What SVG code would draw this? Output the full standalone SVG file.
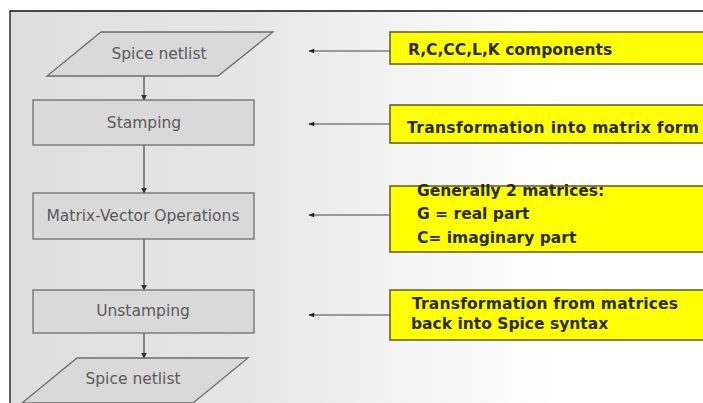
<svg xmlns="http://www.w3.org/2000/svg" width="703" height="403" viewBox="0 0 703 403">
<defs>
<linearGradient id="bg" x1="0" y1="0" x2="1" y2="0">
<stop offset="0" stop-color="#dedede"/>
<stop offset="0.35" stop-color="#e6e6e6"/>
<stop offset="0.55" stop-color="#f2f2f2"/>
<stop offset="0.8" stop-color="#ffffff"/>
<stop offset="1" stop-color="#ffffff"/>
</linearGradient>
<marker id="ah" viewBox="0 0 8 8" refX="7" refY="4" markerWidth="6" markerHeight="6" orient="auto" markerUnits="userSpaceOnUse">
<path d="M0,0 L8,4 L0,8 z" fill="#333"/>
</marker>
<marker id="dot" viewBox="0 0 8 8" refX="7" refY="4" markerWidth="7" markerHeight="6" orient="auto" markerUnits="userSpaceOnUse">
<path d="M0,1 L8,4 L0,7 z" fill="#222"/>
</marker>
</defs>
<style>
.node{fill:#d9d9d9;stroke:#6e6e6e;stroke-width:1.3}
.ntxt{font-family:"DejaVu Sans",Verdana,sans-serif;font-size:15.5px;fill:#5a5a5a;text-anchor:middle}
.note{fill:#ffff00;stroke:#5c5a20;stroke-width:1.5}
.ytxt{font-family:"DejaVu Sans",Verdana,sans-serif;font-size:15.5px;font-weight:bold;fill:#2a2a10}
.con{stroke:#444;stroke-width:1.2;fill:none}
</style>
<rect x="0" y="0" width="703" height="403" fill="#ffffff"/>
<rect x="10" y="11" width="693" height="392" fill="url(#bg)"/>
<path d="M10,403 L10,11 L703,11" fill="none" stroke="#111" stroke-width="1.3"/>

<g id="connectors">
<line class="con" x1="144" y1="76" x2="144" y2="100" marker-end="url(#ah)"/>
<line class="con" x1="144" y1="145" x2="144" y2="193" marker-end="url(#ah)"/>
<line class="con" x1="144" y1="239" x2="144" y2="290" marker-end="url(#ah)"/>
<line class="con" x1="144" y1="333" x2="144" y2="358" marker-end="url(#ah)"/>
<line class="con" x1="390" y1="51" x2="309" y2="51" marker-end="url(#dot)"/>
<line class="con" x1="390" y1="124" x2="309" y2="124" marker-end="url(#dot)"/>
<line class="con" x1="390" y1="215" x2="309" y2="215" marker-end="url(#dot)"/>
<line class="con" x1="390" y1="315" x2="309" y2="315" marker-end="url(#dot)"/>
</g>

<g id="spice-netlist-in">
<polygon class="node" points="101,32 273,32 218,76 47,76"/>
<text class="ntxt" x="159" y="59">Spice netlist</text>
</g>
<g id="stamping">
<rect class="node" x="33" y="100" width="221" height="45"/>
<text class="ntxt" x="144" y="128">Stamping</text>
</g>
<g id="matrix-vector">
<rect class="node" x="33" y="193" width="221" height="46"/>
<text class="ntxt" x="143" y="221">Matrix-Vector Operations</text>
</g>
<g id="unstamping">
<rect class="node" x="33" y="290" width="221" height="43"/>
<text class="ntxt" x="143" y="316">Unstamping</text>
</g>
<g id="spice-netlist-out">
<polygon class="node" points="77,358 248,358 193,403 22,403"/>
<text class="ntxt" x="133" y="384">Spice netlist</text>
</g>

<g id="note-components">
<rect class="note" x="390" y="32" width="320" height="32"/>
<text class="ytxt" x="408" y="55">R,C,CC,L,K components</text>
</g>
<g id="note-matrix-form">
<rect class="note" x="390" y="105" width="320" height="38"/>
<text class="ytxt" x="407" y="133" textLength="292" lengthAdjust="spacing">Transformation into matrix form</text>
</g>
<g id="note-matrices">
<rect class="note" x="390" y="186" width="320" height="66"/>
<text class="ytxt" x="417" y="196">Generally 2 matrices:</text>
<text class="ytxt" x="417" y="219">G = real part</text>
<text class="ytxt" x="417" y="243">C= imaginary part</text>
</g>
<g id="note-unstamping">
<rect class="note" x="390" y="290" width="320" height="50"/>
<text class="ytxt" x="412" y="309" textLength="266" lengthAdjust="spacing">Transformation from matrices</text>
<text class="ytxt" x="411" y="329">back into Spice syntax</text>
</g>
</svg>
